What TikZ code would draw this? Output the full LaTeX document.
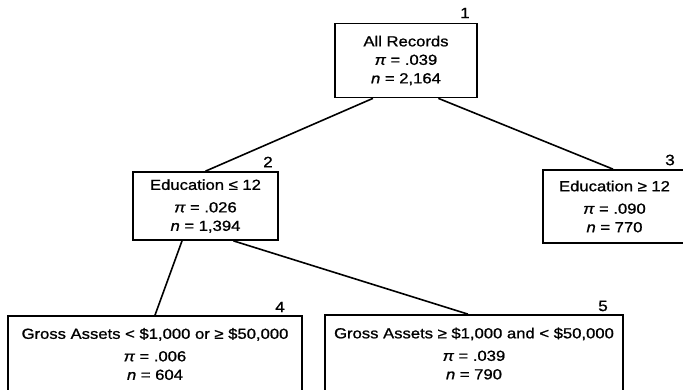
\documentclass[tikz,border=0pt]{standalone}
\usepackage{fontspec}
\setmainfont[FakeStretch=1.14,FakeBold=1]{Liberation Sans}
\usetikzlibrary{calc}
\begin{document}
\begin{tikzpicture}[x=1pt,y=-1pt,
  box/.style={draw, line width=1.7pt, inner sep=0pt, align=center,
    font=\fontsize{14.6}{18.5}\selectfont},
  num/.style={font=\fontsize{15}{15}\selectfont, inner sep=0pt},
  link/.style={line width=1.6pt}]
\useasboundingbox (0,0) rectangle (683,389);
\clip (0,0) rectangle (683,389);

% tree nodes
\node[box, minimum width=142pt, minimum height=74pt] (b1) at (406,60.5)
  {All Records\\ {\itshape π} = .039\\ {\itshape n} = 2,164};
\node[box, minimum width=145pt, minimum height=68pt] (b2) at (205.5,206)
  {Education ≤ 12\\[4pt] {\itshape π} = .026\\ {\itshape n} = 1,394};
\node[box, minimum width=143pt, minimum height=73pt] (b3) at (614.5,206.5)
  {Education ≥ 12\\[4pt] {\itshape π} = .090\\ {\itshape n} = 770};
\node[box, minimum width=294pt, minimum height=76pt] (b4) at (155,354)
  {Gross Assets < \$1,000 or ≥ \$50,000\\[4pt] {\itshape π} = .006\\ {\itshape n} = 604};
\node[box, minimum width=298pt, minimum height=77pt] (b5) at (474,353.5)
  {Gross Assets ≥ \$1,000 and < \$50,000\\[4pt] {\itshape π} = .039\\ {\itshape n} = 790};

% node numbers
\node[num] (n1) at (465,13) {1};
\node[num] (n2) at (268,162) {2};
\node[num] (n3) at (670,160) {3};
\node[num] (n4) at (280,307) {4};
\node[num] (n5) at (603,306) {5};

% branches
\draw[link] ($(b1.south west)!0.27!(b1.south east)$) -- (b2.north);
\draw[link] ($(b1.south west)!0.725!(b1.south east)$) -- ($(b3.north west)!0.49!(b3.north east)$);
\draw[link] ($(b2.south west)!0.34!(b2.south east)$) -- (b4.north);
\draw[link] ($(b2.south west)!0.69!(b2.south east)$) -- ($(b5.north west)!0.48!(b5.north east)$);
\end{tikzpicture}
\end{document}
